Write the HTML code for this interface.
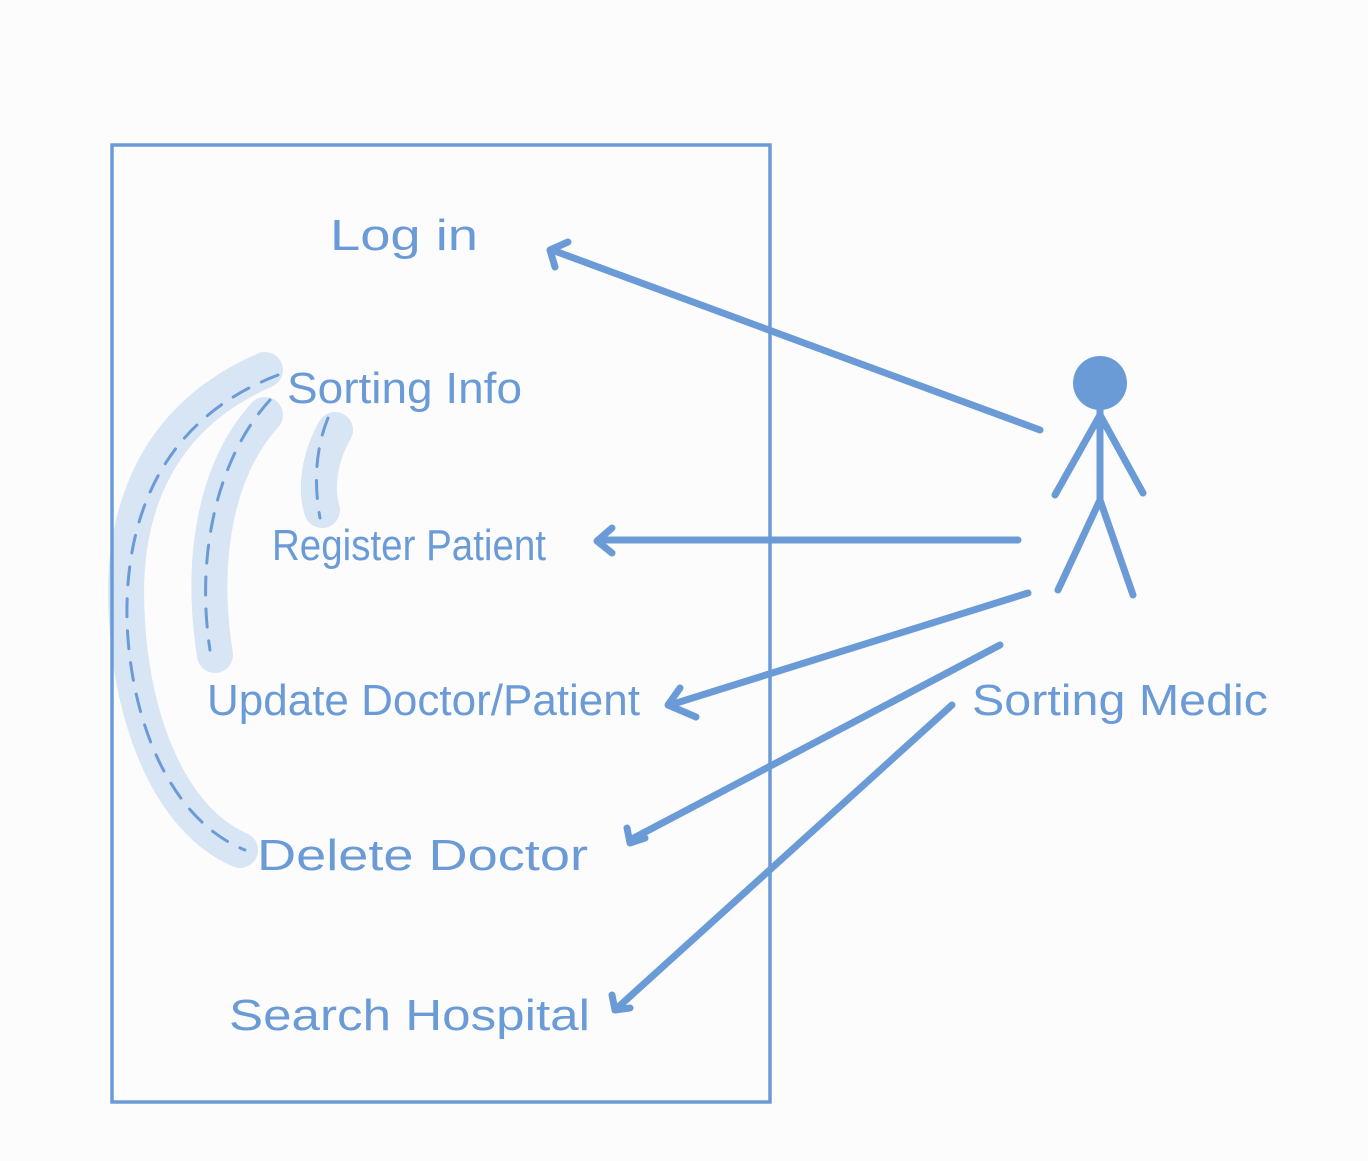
<!DOCTYPE html>
<html><head><meta charset="utf-8"><style>
html,body{margin:0;padding:0;background:#fcfcfc;}
svg{display:block}
text{font-family:"Liberation Sans",sans-serif;fill:#6b9bd6;font-size:44px;}
</style></head><body>
<svg width="1368" height="1161" viewBox="0 0 1368 1161">
<rect width="1368" height="1161" fill="#fcfcfc"/>
<g fill="none" stroke="#d8e5f4" stroke-linecap="round" stroke-width="36">
<path d="M265,370 C150,420 120,520 127,620 C132,720 170,820 240,850"/>
<path d="M265,415 C215,470 200,560 215,655"/>
<path d="M335,430 C318,460 316,490 322,510"/>
</g>
<g fill="none" stroke="#6b9bd6" stroke-width="3" stroke-dasharray="18,14" stroke-linecap="round">
<path d="M278,375 C160,420 125,520 127,620 C130,720 170,820 245,850"/>
<path d="M270,400 C215,460 196,560 210,650"/>
<path d="M328,418 C315,450 314,485 320,518"/>
</g>
<rect x="112" y="145" width="658" height="957" fill="none" stroke="#6b9bd6" stroke-width="3.5"/>
<text x="330" y="250" textLength="148" lengthAdjust="spacingAndGlyphs">Log in</text>
<text x="287" y="403" textLength="235" lengthAdjust="spacingAndGlyphs">Sorting Info</text>
<text x="272" y="560" textLength="274" lengthAdjust="spacingAndGlyphs">Register Patient</text>
<text x="207" y="715" textLength="433" lengthAdjust="spacingAndGlyphs">Update Doctor/Patient</text>
<text x="257" y="870" textLength="331" lengthAdjust="spacingAndGlyphs">Delete Doctor</text>
<text x="229" y="1030" textLength="361" lengthAdjust="spacingAndGlyphs">Search Hospital</text>
<text x="972" y="715" textLength="296" lengthAdjust="spacingAndGlyphs">Sorting Medic</text>
<g stroke="#6b9bd6" stroke-width="7" stroke-linecap="round" stroke-linejoin="round" fill="none">
<line x1="1040" y1="430" x2="552" y2="250"/>
<polyline points="568,242 550,250 555,267"/>
<line x1="1018" y1="540" x2="598" y2="540"/>
<polyline points="612,528 597,541 612,553"/>
<line x1="1028" y1="593" x2="670" y2="705"/>
<polyline points="680,688 668,705 696,717"/>
<line x1="1000" y1="645" x2="630" y2="840"/>
<polyline points="627,828 630,843 645,838"/>
<line x1="952" y1="705" x2="615" y2="1010"/>
<polyline points="612,995 615,1010 630,1008"/>
<line x1="1100" y1="410" x2="1100" y2="500"/>
<line x1="1100" y1="415" x2="1055" y2="495"/>
<line x1="1100" y1="415" x2="1143" y2="493"/>
<line x1="1100" y1="500" x2="1058" y2="590"/>
<line x1="1100" y1="500" x2="1133" y2="595"/>
</g>
<circle cx="1100" cy="383" r="27" fill="#6b9bd6"/>
</svg>
</body></html>
